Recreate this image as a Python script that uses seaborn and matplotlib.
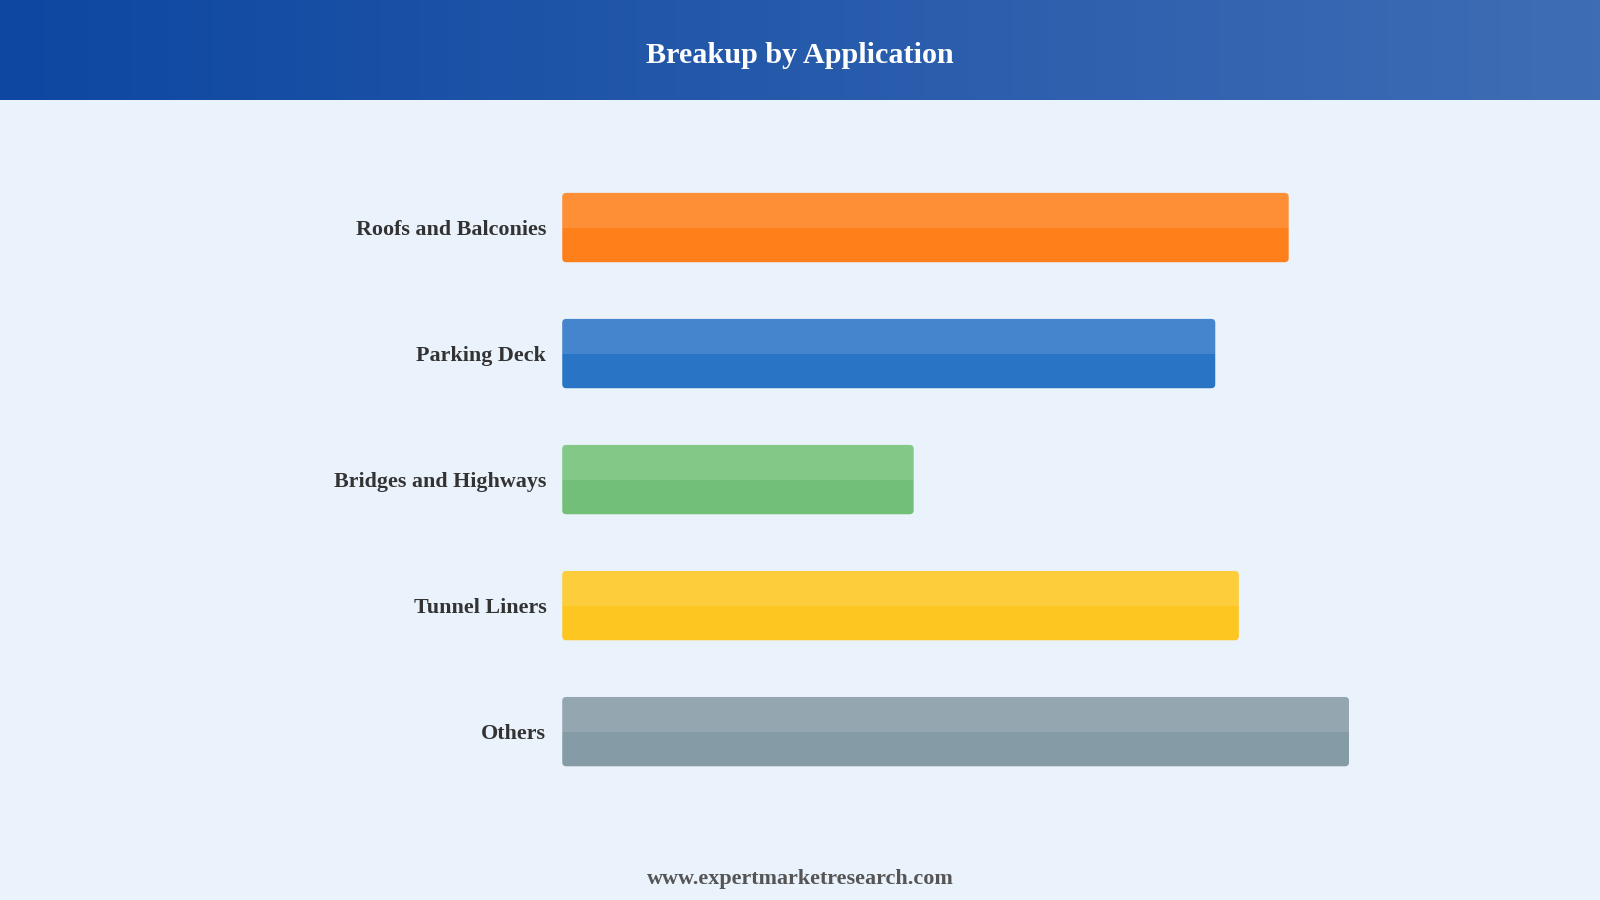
import numpy as np
import pandas as pd
import seaborn as sns
import matplotlib.pyplot as plt
from matplotlib.patches import FancyBboxPatch, Rectangle
from matplotlib.colors import LinearSegmentedColormap

# Chart data (no axis in the source)
categories = ['Roofs and Balconies', 'Parking Deck', 'Bridges and Highways',
              'Tunnel Liners', 'Others']
values = [27.7, 24.9, 13.4, 25.8, 30.0]
bar_colors = ['#FF7F1A', '#2A74C6', '#72C077', '#FDC620', '#859BA5']

title = 'Breakup by Application'
footer = 'www.expertmarketresearch.com'

BG = '#EAF2FC'
SERIF = ['Liberation Serif', 'DejaVu Serif']

sns.set_theme(style='white')
plt.rcParams['font.family'] = SERIF

fig = plt.figure(figsize=(16, 9), dpi=100)
fig.patch.set_facecolor(BG)

# header band with horizontal gradient
hdr = fig.add_axes([0, 1 - 98 / 882, 1, 98 / 882])
grad = LinearSegmentedColormap.from_list('hdr', ['#0D47A1', '#3F6DB5'])
hdr.imshow(np.linspace(0, 1, 256)[None, :], aspect='auto', cmap=grad,
           extent=[0, 1, 0, 1])
hdr.set_axis_off()
hdr.text(0.5, 0.445, title, ha='center', va='center', color='white',
         fontsize=21.7, fontweight='bold', family=SERIF)

# main axes
ax_left = 551 / 1568
ax_right = 1450.5 / 1568
ax = fig.add_axes([ax_left, 1 - 778.75 / 882, ax_right - ax_left,
                   (778.75 - 161.25) / 882])
ax.set_facecolor('none')

df = pd.DataFrame({'category': categories, 'value': values})
sns.barplot(data=df, x='value', y='category', hue='category',
            palette=bar_colors, orient='h', width=0.55, legend=False, ax=ax)

ax.set_xlim(0, 35)
ax.set_ylim(4.5, -0.5)
fig.canvas.draw()

# px -> data unit conversion for rounded corners
inv = ax.transData.inverted()
p0 = inv.transform((0, 0))
p1 = inv.transform((1, 1))
xpp = abs(p1[0] - p0[0])
ypp = abs(p1[1] - p0[1])
r_px = 4

for patch, col in zip(list(ax.patches), bar_colors):
    x, y = patch.get_x(), patch.get_y()
    w, h = patch.get_width(), patch.get_height()
    patch.set_visible(False)
    rb = FancyBboxPatch((x, y), w, h,
                        boxstyle=f'round,pad=0,rounding_size={r_px * xpp}',
                        mutation_aspect=ypp / xpp,
                        facecolor=col, edgecolor='none', zorder=2)
    ax.add_patch(rb)
    # lighter upper half
    top = Rectangle((x, y), w, h / 2, facecolor='white', alpha=0.13,
                    edgecolor='none', zorder=3)
    top.set_clip_path(rb)
    ax.add_patch(top)

ax.set_xlabel('')
ax.set_ylabel('')
ax.set_xticks([])
ax.tick_params(axis='y', length=0, pad=11.5)
for lbl in ax.get_yticklabels():
    lbl.set_fontfamily(SERIF)
    lbl.set_fontweight('bold')
    lbl.set_fontsize(15.8)
    lbl.set_color('#333333')
sns.despine(ax=ax, left=True, bottom=True)

fig.text(0.5, 1 - 861 / 882, footer, ha='center', va='center',
         color='#555555', fontsize=15.9, fontweight='bold', family=SERIF)

fig.savefig('out.png', dpi=100, facecolor=BG)
plt.close(fig)
